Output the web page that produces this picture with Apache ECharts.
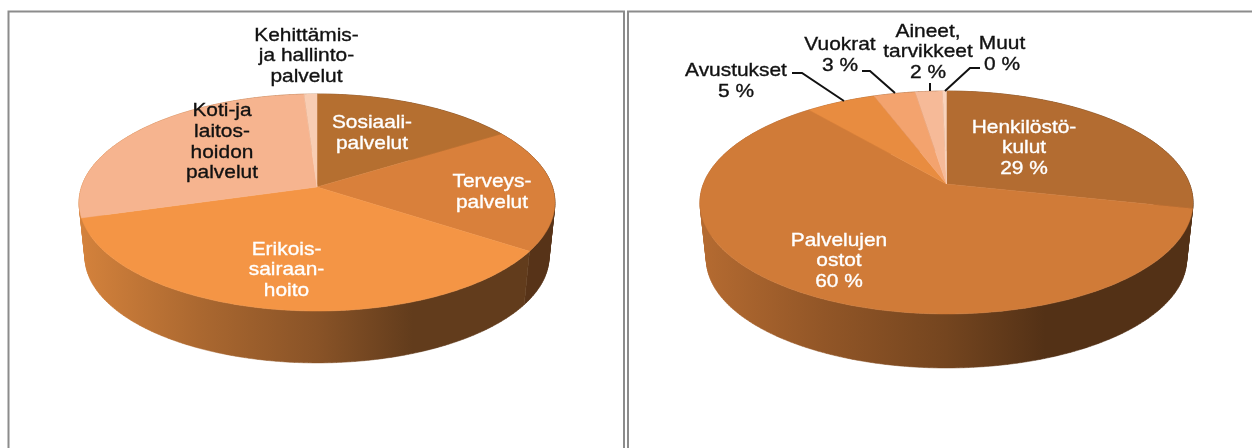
<!DOCTYPE html>
<html>
<head>
<meta charset="utf-8">
<style>
  html, body { margin: 0; padding: 0; background: #fff; }
  #chart { width: 1252px; height: 448px; }
</style>
<script src="https://cdn.jsdelivr.net/npm/echarts@6/dist/echarts.min.js"></script>
</head>
<body>
<div id="chart"></div>
<script>
// left pie, clockwise from 12 o'clock
const serviceNames = ["Sosiaali-\npalvelut", "Terveys-\npalvelut", "Erikois-\nsairaan-\nhoito", "Koti-ja\nlaitos-\nhoidon\npalvelut", "Kehittämis-\nja hallinto-\npalvelut"];
const serviceValues = [16, 18.4, 36.1, 28.5, 1];
// right pie, clockwise from 12 o'clock
const costNames = ["Henkilöstö-\nkulut\n29 %", "Palvelujen\nostot\n60 %", "Avustukset\n5 %", "Vuokrat\n3 %", "Aineet,\ntarvikkeet\n2 %", "Muut\n0 %"];
const costValues = [28.5, 60.5, 5.4, 3.2, 2.1, 0.3];

const serviceColors = ["#B56F30", "#D9803B", "#F49545", "#F6B48F", "#F8CDB3"];
const costColors = ["#B36C31", "#D07B38", "#E88C40", "#F3A36E", "#F6BA98", "#F9D3BC"];
// back slices show no wall of their own, the side takes the front slice's colour
const serviceWallColors = ["#D9803B", "#D9803B", "#F49545", "#F49545", "#F49545"];
const costWallColors = ["#D07B38", "#D07B38", "#D07B38", "#D07B38", "#D07B38", "#D07B38"];

// pie geometry: a circle seen in perspective, apex is where the centre lands
const leftPie = { cx: 317, apex: 187, a: 235.5, b: 106.3, k: 0.1429, baseApex: 242, baseScale: 0.975, x0: 80, x1: 555 };
const rightPie = { cx: 946.5, apex: 184, a: 243.1, b: 108.4, k: 0.166, baseApex: 241.4, baseScale: 0.974, x0: 700, x1: 1193 };

// label centres
const serviceLabelPos = [[372, 133], [492, 192], [286.5, 270], [222, 142], [306.5, 56]];
const serviceLabelFill = ["#fff", "#fff", "#fff", "#111", "#111"];
const costLabelPos = [[1024, 148], [839, 261], [736, 81], [840, 55], [928, 52], [1002, 54.5]];
const costLabelFill = ["#fff", "#fff", "#111", "#111", "#111", "#111"];
const leaderLines = [
  [[792, 73], [802, 73], [844, 101]],
  [[862, 71], [870, 71], [895, 93]],
  [[930, 83], [930, 91]],
  [[980, 68], [970, 68], [945, 91]]
];

function project(pie, deg, base) {
  const t = deg * Math.PI / 180;
  const X = Math.sin(t);
  const Y = -Math.cos(t);
  const d = 1 - pie.k * Y;
  if (base) {
    return [pie.cx + pie.baseScale * pie.a * X / d, pie.baseApex + pie.baseScale * pie.b * Y / d];
  }
  return [pie.cx + pie.a * X / d, pie.apex + pie.b * Y / d];
}

function sliceAngles(values, i) {
  const total = values.reduce((s, v) => s + v, 0);
  const before = values.slice(0, i).reduce((s, v) => s + v, 0);
  return [before / total * 360, (before + values[i]) / total * 360];
}

function arc(pie, from, to, base) {
  const pts = [];
  const n = Math.max(2, Math.ceil(to - from));
  for (let j = 0; j <= n; j++) {
    pts.push(project(pie, from + (to - from) * j / n, base));
  }
  return pts;
}

function shade(hex, f) {
  const n = parseInt(hex.slice(1), 16);
  const c = [n >> 16, (n >> 8) & 255, n & 255].map(v => Math.round(v * f));
  return "rgb(" + c.join(",") + ")";
}

// all quads of a wall in one path, same winding so they fill as a union without seams
function wallPath(upper, lower) {
  let d = "";
  for (let j = 0; j < upper.length - 1; j++) {
    let quad = [upper[j], upper[j + 1], lower[j + 1], lower[j]];
    let area = 0;
    quad.forEach((p, m) => {
      const q = quad[(m + 1) % 4];
      area += p[0] * q[1] - q[0] * p[1];
    });
    if (area < 0) quad = quad.reverse();
    d += "M" + quad.map(p => p[0].toFixed(2) + " " + p[1].toFixed(2)).join("L") + "Z";
  }
  return d;
}

function wallSeries(pie, values, colors) {
  return {
    type: "custom",
    coordinateSystem: "none",
    silent: true,
    z: 1,
    data: values,
    renderItem(params) {
      const i = params.dataIndex;
      const [from, to] = sliceAngles(values, i);
      const c = colors[i];
      const fill = {
        type: "linear", global: true, x: pie.x0, y: 0, x2: pie.x1, y2: 0,
        colorStops: [
          { offset: 0, color: shade(c, 0.87) },
          { offset: 0.25, color: shade(c, 0.7) },
          { offset: 0.5, color: shade(c, 0.56) },
          { offset: 0.7, color: shade(c, 0.4) },
          { offset: 1, color: shade(c, 0.4) }
        ]
      };
      return {
        type: "path",
        shape: { pathData: wallPath(arc(pie, from, to, false), arc(pie, from, to, true)) },
        style: { fill, stroke: fill, lineWidth: 0.5 }
      };
    }
  };
}

function topSeries(pie, values, colors) {
  return {
    type: "custom",
    coordinateSystem: "none",
    silent: true,
    z: 2,
    data: values,
    renderItem(params) {
      const i = params.dataIndex;
      const [from, to] = sliceAngles(values, i);
      const points = [[pie.cx, pie.apex]].concat(arc(pie, from, to, false));
      return { type: "polygon", shape: { points }, style: { fill: colors[i], stroke: colors[i], lineWidth: 0.5 } };
    }
  };
}

function labels(names, pos, fills) {
  return names.map((name, i) => ({
    type: "text",
    x: pos[i][0],
    y: pos[i][1],
    scaleX: 1.1,
    z: 10,
    style: {
      text: name,
      fill: fills[i],
      stroke: fills[i],
      lineWidth: 0.35,
      font: "19px 'Liberation Sans'",
      lineHeight: 20.7,
      align: "center",
      verticalAlign: "middle"
    }
  }));
}

const frameColor = "#8c8c8c";
const frames = [
  [[8.5, 448], [8.5, 11.5], [624, 11.5], [624, 448]],
  [[628, 448], [628, 11.5], [1252, 11.5]]
].map(points => ({
  type: "polyline",
  z: 0,
  shape: { points },
  style: { fill: null, stroke: frameColor, lineWidth: 2 }
}));

const leaders = leaderLines.map(points => ({
  type: "polyline",
  z: 9,
  shape: { points },
  style: { fill: null, stroke: "#111", lineWidth: 2 }
}));

const chart = echarts.init(document.getElementById("chart"), null, { renderer: "canvas" });
chart.setOption({
  animation: false,
  backgroundColor: "#fff",
  graphic: {
    elements: frames
      .concat(leaders)
      .concat(labels(serviceNames, serviceLabelPos, serviceLabelFill))
      .concat(labels(costNames, costLabelPos, costLabelFill))
  },
  series: [
    wallSeries(leftPie, serviceValues, serviceWallColors),
    topSeries(leftPie, serviceValues, serviceColors),
    wallSeries(rightPie, costValues, costWallColors),
    topSeries(rightPie, costValues, costColors)
  ]
});
</script>
</body>
</html>
